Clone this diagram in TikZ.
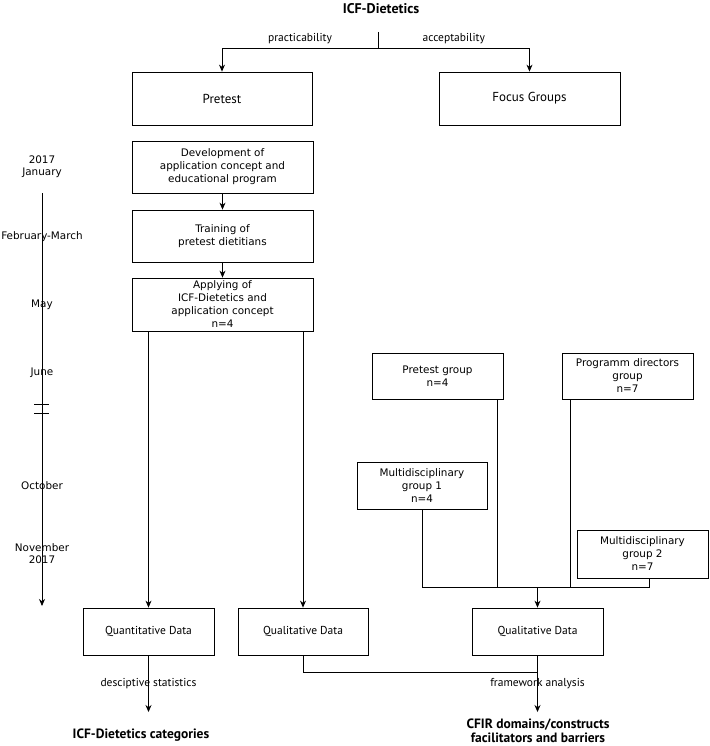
\documentclass[tikz,border=0pt]{standalone}
\usepackage{fontspec}
\setmainfont{DejaVu Sans}
\newfontfamily\narrowfont{PT Sans}
\usetikzlibrary{arrows.meta}

\begin{document}
\begin{tikzpicture}[x=1pt,y=-1pt,
    box/.style={draw, line width=0.8pt, align=center, inner sep=0pt,
        font=\fontsize{10.4}{13}\selectfont},
    narrowbox/.style={box, font=\narrowfont\fontsize{11.5}{13}\selectfont},
    bigbox/.style={box, font=\narrowfont\fontsize{13}{15}\selectfont},
    month/.style={align=center, inner sep=0pt, font=\fontsize{10.4}{12}\selectfont},
    lbl/.style={font=\narrowfont\fontsize{11.5}{13}\selectfont},
    result/.style={align=center, inner sep=0pt, font=\narrowfont\bfseries\fontsize{13.5}{14.5}\selectfont},
    arr/.style={line width=0.8pt, -{Stealth[length=7pt,width=6pt]}},
    con/.style={line width=0.8pt}]
    \useasboundingbox (0,0) rectangle (709,746);

    % Top
    \node[result, font=\narrowfont\bfseries\fontsize{14}{15}\selectfont] (title) at (381,9) {ICF-Dietetics};
    \coordinate (stub) at (378,32);
    \coordinate (split) at (378,48);
    \node[bigbox, minimum width=180, minimum height=53] (pretest) at (222,98.5) {Pretest};
    \node[bigbox, minimum width=181, minimum height=53] (focus) at (529.5,98.5) {Focus Groups};
    \draw[con] (stub) -- (split);
    \draw[arr] (split) -| node[lbl, pos=0.25, above] {practicability} (pretest);
    \draw[arr] (split) -| node[lbl, pos=0.25, above] {acceptability} (focus);

    % Timeline
    \node[month] (jan) at (42,167) {2017\\January};
    \node[month] (feb) at (42,237) {February-March};
    \node[month] (may) at (42,305) {May};
    \node[month] (jun) at (42,373) {June};
    \node[month] (oct) at (42,486) {October};
    \node[month] (nov) at (42,554) {November\\2017};
    \coordinate (ttop) at (42,193);
    \coordinate (tend) at (42,606);
    \draw[arr] (ttop) -- (tend);
    \foreach \y in {404,413}
        \draw[con] (34,\y) -- (49,\y);

    % Pretest steps
    \node[box, minimum width=181, minimum height=52] (develop) at (222.5,167) {Development of\\application concept and\\educational program};
    \node[box, minimum width=181, minimum height=52] (training) at (222.5,236) {Training of\\pretest dietitians};
    \node[box, minimum width=181, minimum height=53] (applying) at (222.5,304.5) {Applying of\\ICF-Dietetics and\\application concept\\n=4};
    \draw[arr] (develop) -- (training);
    \draw[arr] (training) -- (applying);

    % Focus groups
    \node[box, minimum width=131, minimum height=46] (pgroup) at (437.5,376) {Pretest group\\n=4};
    \node[box, minimum width=131, minimum height=46] (pdgroup) at (627.5,376) {Programm directors\\group\\n=7};
    \node[box, minimum width=130, minimum height=47] (mgone) at (422,485.5) {Multidisciplinary\\group 1\\n=4};
    \node[box, minimum width=131, minimum height=48] (mgtwo) at (642.5,554) {Multidisciplinary\\group 2\\n=7};
    \coordinate (pgdown) at (497,587);
    \coordinate (pddown) at (570,587);
    \coordinate (mgright) at (649,587);
    \coordinate (join) at (537.5,587);

    % Data
    \node[narrowbox, minimum width=131, minimum height=47] (quant) at (148.5,631.5) {Quantitative Data};
    \node[narrowbox, minimum width=130, minimum height=47] (quala) at (303,631.5) {Qualitative Data};
    \node[narrowbox, minimum width=131, minimum height=47] (qualb) at (537.5,631.5) {Qualitative Data};

    \draw[arr] (applying.south -| quant) -- (quant);
    \draw[arr] (applying.south -| quala) -- (quala);
    \draw[con] (pgdown |- pgroup.south) -- (pgdown);
    \draw[con] (pddown |- pdgroup.south) -- (pddown);
    \draw[con] (mgone) |- (mgright) -- (mgright |- mgtwo.south);
    \draw[arr] (join) -- (qualb);

    % Results
    \coordinate (tipa) at (148.5,712);
    \coordinate (tipb) at (537.5,712);
    \coordinate (merge) at (537.5,672);
    \node[result] (categories) at (141,735) {ICF-Dietetics categories};
    \node[result] (cfir) at (538,731) {CFIR domains/constructs\\facilitators and barriers};
    \draw[arr] (quant) -- node[lbl] {desciptive statistics} (tipa);
    \draw[con] (quala) |- (merge);
    \draw[arr] (qualb) -- node[lbl] {framework analysis} (tipb);
\end{tikzpicture}
\end{document}
